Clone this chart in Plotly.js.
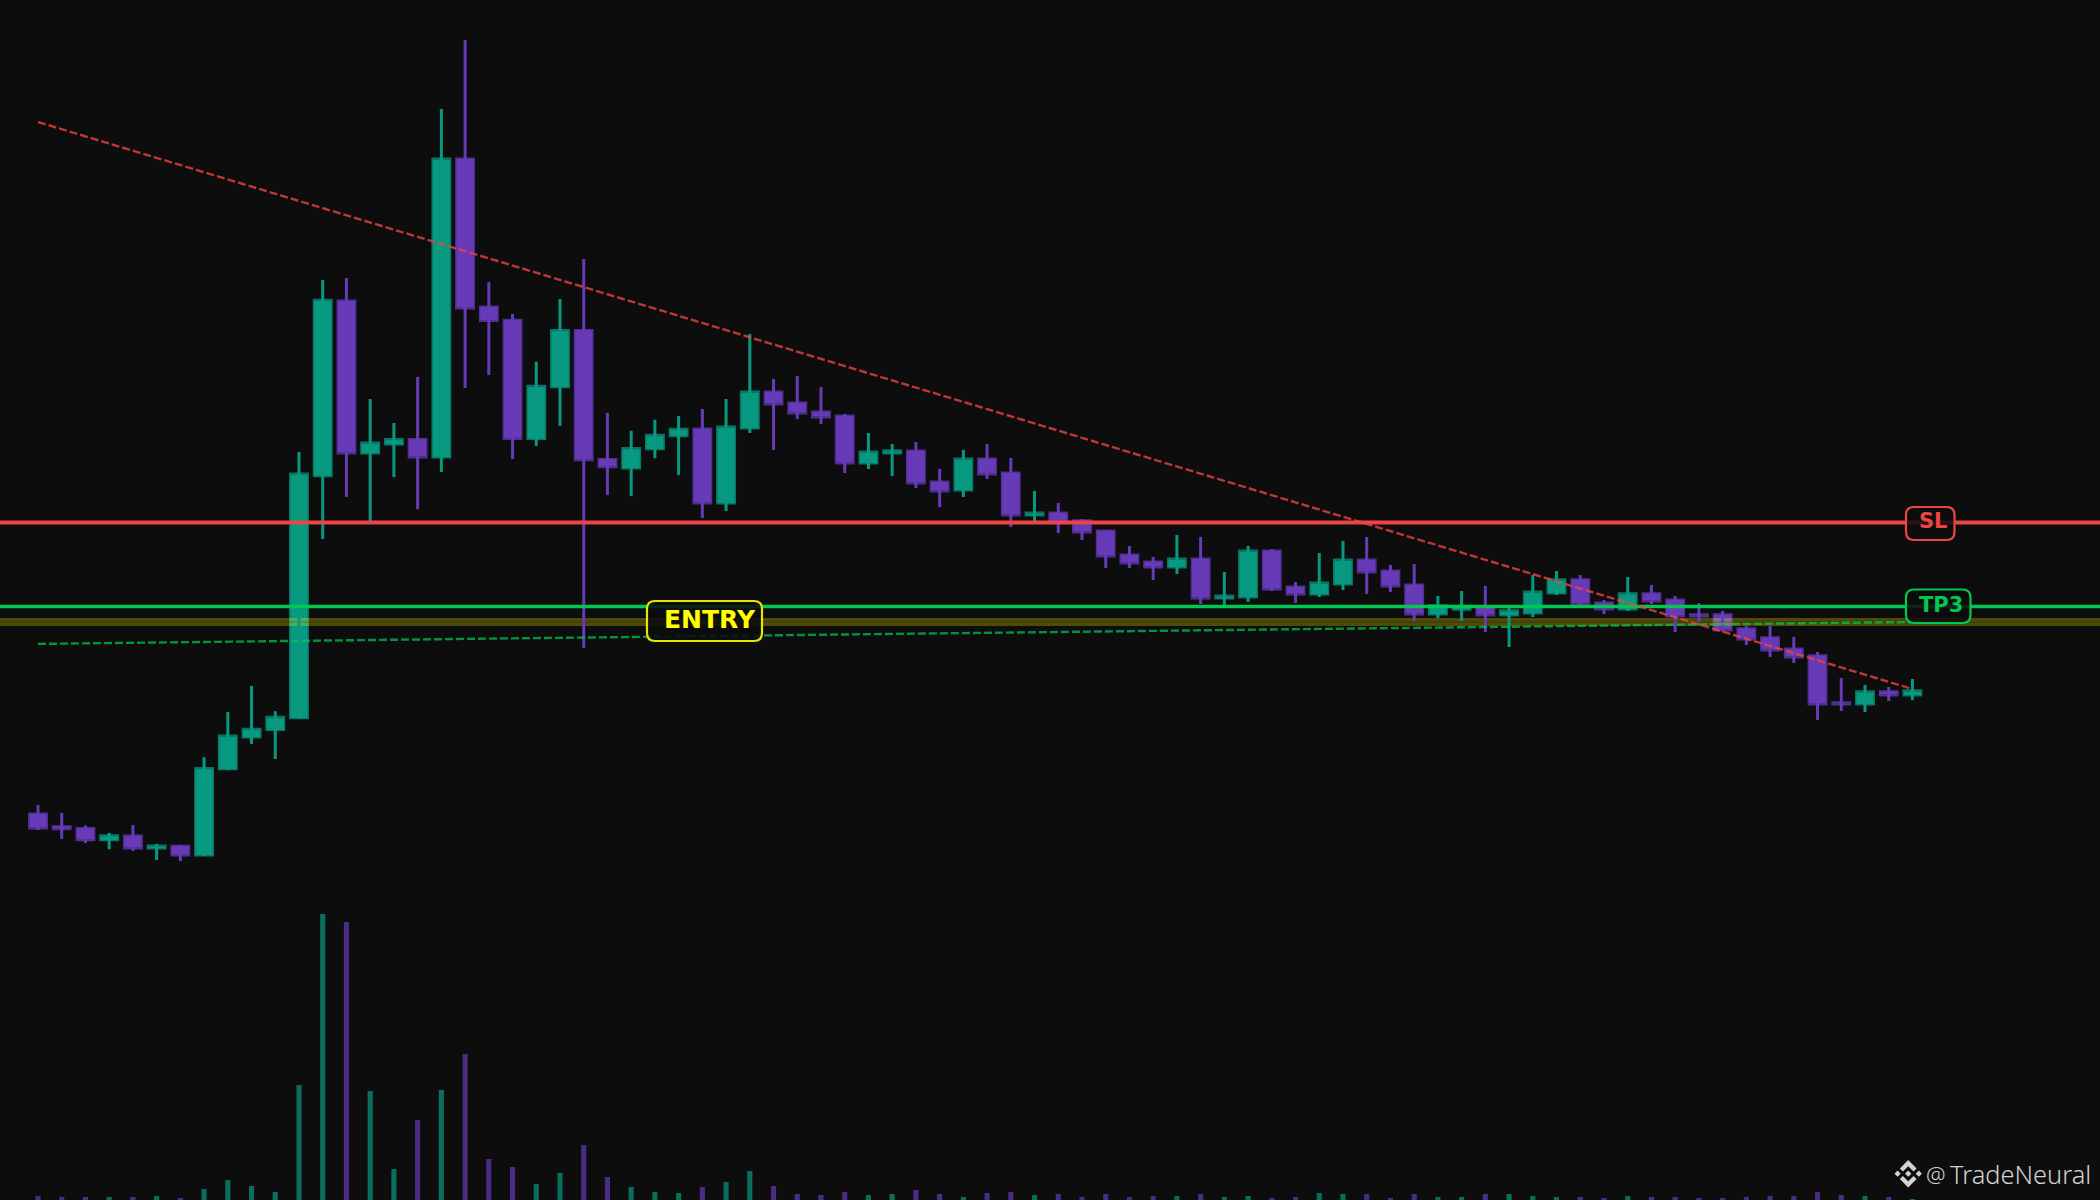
<!DOCTYPE html>
<html>
<head>
<meta charset="utf-8">
<script src="https://cdn.plot.ly/plotly-3.0.1.min.js"></script>
<style>html,body{margin:0;padding:0;background:#0d0d0d;overflow:hidden}#chart{width:2100px;height:1200px}</style>
</head>
<body>
<div id="chart"></div>
<script>
const opens = [.3867,.3741,.3724,.3594,.3647,.3512,.3545,.3443,.4304,.4622,.4696,.4814,.7235,.8998,.7463,.7553,.7614,.7422,1.0417,.8937,.8806,.7606,.8124,.8704,.7414,.7312,.7504,.7635,.7717,.6963,.7713,.8087,.7977,.7887,.7847,.7363,.7463,.7497,.7187,.7093,.7417,.7277,.6843,.6877,.6800,.6697,.6457,.6387,.6323,.6417,.6013,.6023,.6497,.6137,.6053,.6153,.6407,.6297,.6157,.5853,.5900,.5940,.5843,.5863,.6063,.6210,.5977,.5903,.6070,.6007,.5860,.5860,.5720,.5630,.5517,.5450,.4980,.4953,.5090,.5043];
const closes = [.3712,.3704,.3594,.3651,.3512,.3549,.3443,.4324,.4647,.4716,.4835,.7267,.9006,.7463,.7578,.7614,.7422,1.0417,.8913,.8786,.7606,.8145,.8704,.7394,.7324,.7524,.7655,.7716,.6963,.7737,.8087,.7953,.7863,.7823,.7363,.7487,.7500,.7163,.7083,.7417,.7253,.6843,.6877,.6770,.6673,.6433,.6363,.6323,.6417,.6013,.6047,.6497,.6103,.6053,.6177,.6407,.6273,.6133,.5853,.5950,.5945,.5843,.5900,.6087,.6210,.5957,.5903,.6070,.5983,.5833,.5833,.5693,.5603,.5493,.5423,.4953,.4953,.5090,.5043,.5100];
const highs = [.3949,.3871,.3745,.3671,.3749,.3561,.3549,.4427,.4880,.5141,.4888,.7480,.9200,.9220,.8010,.7770,.8231,1.0910,1.1600,.9180,.8860,.8382,.9010,.9410,.7871,.7692,.7802,.7839,.7910,.8010,.8660,.8210,.8240,.8130,.7860,.7670,.7560,.7580,.7310,.7500,.7560,.7420,.7090,.6970,.6810,.6700,.6540,.6430,.6650,.6630,.6280,.6540,.6510,.6180,.6470,.6590,.6630,.6350,.6360,.6040,.6090,.6140,.5930,.6250,.6290,.6250,.6000,.6230,.6150,.6040,.5970,.5890,.5740,.5740,.5630,.5480,.5220,.5150,.5130,.5210];
const lows = [.3700,.3610,.3570,.3508,.3492,.3402,.3390,.3439,.4300,.4561,.4410,.4810,.6610,.7031,.6785,.7231,.6908,.7280,.8120,.8251,.7410,.7541,.7741,.5520,.7051,.7039,.7418,.7251,.6820,.6890,.7670,.7500,.7810,.7760,.7270,.7310,.7240,.7120,.6930,.7030,.7210,.6730,.6780,.6670,.6600,.6320,.6320,.6200,.6260,.5960,.5950,.5980,.6090,.5970,.6030,.6100,.6060,.6080,.5790,.5820,.5790,.5680,.5530,.5830,.6050,.5940,.5860,.5890,.5960,.5680,.5780,.5690,.5550,.5430,.5370,.4800,.4890,.4880,.4990,.5000];
const volumes = [4,3,3,3,3,4,2,11,20,14,8,115,286,278,109,31,80,110,146,41,33,16,27,55,23,13,8,7,13,18,29,14,6,5,8,5,6,10,6,3,7,8,5,6,3,6,3,4,4,6,3,4,2,3,7,6,6,2,6,3,3,6,6,4,3,3,2,4,3,3,2,2,3,4,4,8,5,4,3,1];
const trendIdx = [0, 79];
const trendDown = [1.078, 0.511];
const trendUp = [0.5561, 0.578];
const levelSL = 0.6775;
const levelTP3 = 0.5935;
const levelEntry = 0.578;
const labelNames = ['ENTRY', 'SL', 'TP3'];
const watermarkAt = '@';
const watermarkName = 'TradeNeural';

const W = 2100, H = 1200, STEP = 23.727, X0 = 38;
const xRange = [-X0 / STEP, (W - X0) / STEP];
const UP = '#089981', DOWN = '#673ab7';
const idx = opens.map((_, i) => i);
const isUp = idx.map(i => closes[i] >= opens[i]);

function wicks(up) {
  const xs = [], ys = [];
  idx.forEach(i => { if (isUp[i] === up) { xs.push(i, i, null); ys.push(lows[i], highs[i], null); } });
  return {x: xs, y: ys};
}
function hline(v, color, width) {
  return {type:'scatter', mode:'lines', x:xRange, y:[v, v], yaxis:'y2', hoverinfo:'skip',
          line:{color:color, width:width}};
}
const upW = wicks(true), downW = wicks(false);

const traces = [
  {type:'bar', x:idx, y:volumes, width:0.215, hoverinfo:'skip',
   marker:{color:idx.map(i => isUp[i] ? 'rgba(8,153,129,0.7)' : 'rgba(103,58,183,0.7)'), line:{width:0}}},
  {type:'candlestick', x:idx, open:opens, high:highs, low:lows, close:closes, yaxis:'y2', whiskerwidth:0,
   increasing:{fillcolor:UP, line:{color:'rgb(8,118,100)', width:1.4}},
   decreasing:{fillcolor:DOWN, line:{color:'rgb(82,46,146)', width:1.4}}},
  hline(levelEntry, 'rgba(255,240,0,0.27)', 8),
  hline(levelEntry, 'rgba(0,0,0,0.12)', 2),
  {type:'scatter', mode:'lines', x:upW.x, y:upW.y, yaxis:'y2', connectgaps:false, hoverinfo:'skip', line:{color:UP, width:3}},
  {type:'scatter', mode:'lines', x:downW.x, y:downW.y, yaxis:'y2', connectgaps:false, hoverinfo:'skip', line:{color:DOWN, width:3}},
  hline(levelSL, '#ef4444', 4.2),
  hline(levelTP3, '#00c853', 3.4),
  {type:'scatter', mode:'lines', x:trendIdx, y:trendUp, yaxis:'y2', hoverinfo:'skip',
   line:{color:'rgba(0,200,83,0.72)', width:2.4, dash:'8px,3px'}},
  {type:'scatter', mode:'lines', x:trendIdx, y:trendDown, yaxis:'y2', hoverinfo:'skip',
   line:{color:'rgba(239,68,68,0.78)', width:2.4, dash:'8px,3px'}}
];

function roundedRect(w, h, r) {
  const a = w / 2, b = h / 2;
  return `M${-a+r},${-b} L${a-r},${-b} Q${a},${-b} ${a},${-b+r} L${a},${b-r} Q${a},${b} ${a-r},${b} L${-a+r},${b} Q${-a},${b} ${-a},${b-r} L${-a},${-b+r} Q${-a},${-b} ${-a+r},${-b} Z`;
}
function labelBox(x1, y1, x2, y2, color) {
  return {type:'path', layer:'above', xref:'paper', yref:'paper', xsizemode:'pixel', ysizemode:'pixel',
          xanchor:(x1 + x2) / 2 / W, yanchor:1 - (y1 + y2) / 2 / H,
          path:roundedRect(x2 - x1, y2 - y1, 8), fillcolor:'rgba(13,13,13,0.88)',
          line:{color:color, width:2.2}};
}
function labelText(text, cx, cy, color, size) {
  return {xref:'paper', yref:'paper', x:cx / W, y:1 - cy / H, xanchor:'center', yanchor:'middle', showarrow:false, text:text,
          font:{family:'DejaVu Sans', size:size, color:color, weight:700}};
}
function markText(text, right, size) {
  return {xref:'paper', yref:'paper', x:right / W, y:1 - 1173.5 / H, xanchor:'right', yanchor:'middle', showarrow:false, text:text,
          font:{family:'Noto Sans', size:size, color:'#d2d2d2', weight:300}};
}
const logoPolys = [
  [[38.73,53.2],[63.32,28.62],[87.92,53.22],[102.22,38.91],[63.32,0],[24.43,38.9]],
  [[0,63.31],[14.3,49],[28.61,63.31],[14.3,77.61]],
  [[38.73,73.41],[63.32,98],[87.92,73.4],[102.23,87.69],[63.33,126.6],[24.43,87.72]],
  [[98,63.31],[112.3,49],[126.61,63.31],[112.3,77.61]],
  [[77.83,63.3],[63.32,48.78],[48.82,63.28],[63.32,77.78]]
];
const logoScale = 27.4 / 126.6;
const logoPath = logoPolys.map(p => 'M' + p.map(q => ((q[0]-63.3)*logoScale).toFixed(2) + ',' + ((q[1]-63.3)*logoScale).toFixed(2)).join(' L') + ' Z').join(' ');

const layout = {
  width:W, height:H, margin:{l:0, r:0, t:0, b:0, pad:0},
  paper_bgcolor:'#0d0d0d', plot_bgcolor:'#0d0d0d', showlegend:false, boxgap:0.22, boxgroupgap:0, boxmode:'overlay', hovermode:false,
  xaxis:{range:xRange, visible:false, showgrid:false, zeroline:false, rangeslider:{visible:false}, fixedrange:true},
  yaxis:{range:[0, 1200], visible:false, showgrid:false, zeroline:false, fixedrange:true},
  yaxis2:{range:[0, 1.2], overlaying:'y', visible:false, showgrid:false, zeroline:false, fixedrange:true},
  shapes:[
    labelBox(647, 601, 762, 641, '#e6e600'),
    labelBox(1906, 507, 1954.5, 540, '#ef4444'),
    labelBox(1906, 589.5, 1970.5, 623, '#00c853'),
    {type:'path', layer:'above', xref:'paper', yref:'paper', xsizemode:'pixel', ysizemode:'pixel',
     xanchor:1908.2 / W, yanchor:1 - 1173.7 / H, path:logoPath, fillcolor:'#d2d2d2', line:{width:0}}
  ],
  annotations:[
    labelText(labelNames[0], 709.5, 619, '#ffff00', 25),
    labelText(labelNames[1], 1933.5, 521, '#ef4444', 21),
    labelText(labelNames[2], 1941, 605, '#00c853', 21),
    markText(watermarkAt, 1947.5, 22),
    markText(watermarkName, 2093, 25.4)
  ]
};
Plotly.newPlot('chart', traces, layout, {staticPlot:true, displayModeBar:false});
</script>
</body>
</html>
